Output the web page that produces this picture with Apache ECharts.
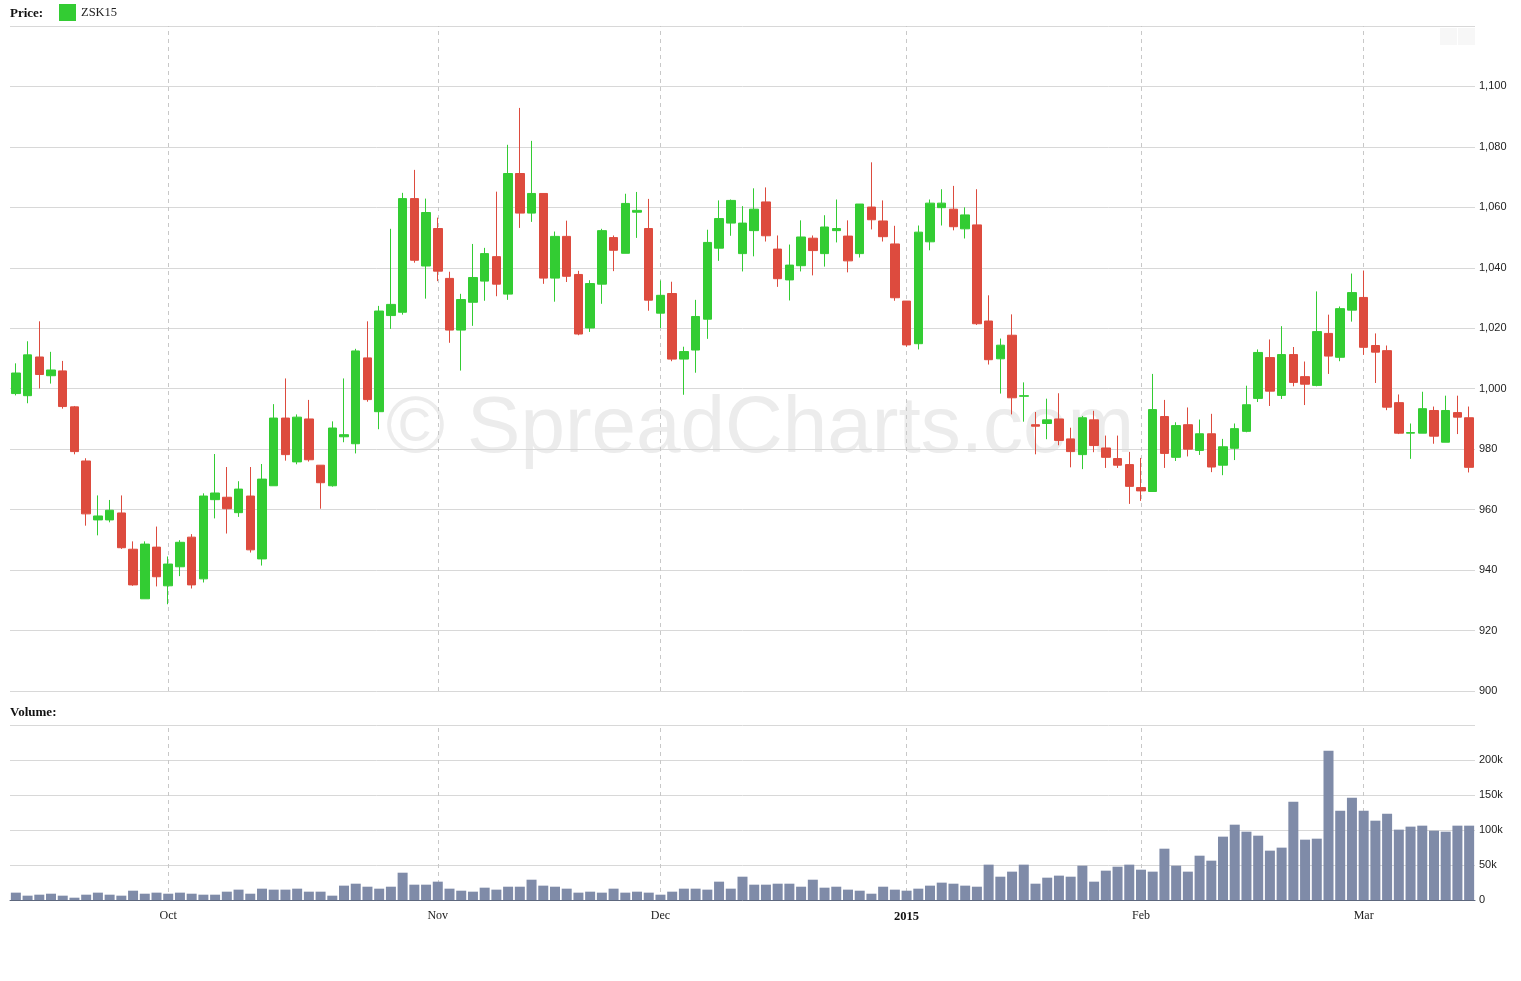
<!DOCTYPE html>
<html>
<head>
<meta charset="utf-8">
<script src="https://cdn.jsdelivr.net/npm/echarts@6/dist/echarts.min.js"></script>
<style>
html,body{margin:0;padding:0;background:#fff;}
#chart{width:1521px;height:981px;}
</style>
</head>
<body>
<div id="chart"></div>
<script>
// ---- Data (ZSK15, daily, Sep 12 2014 – Mar 13 2015) ----
const dates = [
'2014-09-12','2014-09-15','2014-09-16','2014-09-17','2014-09-18','2014-09-19','2014-09-22','2014-09-23','2014-09-24','2014-09-25','2014-09-26','2014-09-29','2014-09-30',
'2014-10-01','2014-10-02','2014-10-03','2014-10-06','2014-10-07','2014-10-08','2014-10-09','2014-10-10','2014-10-13','2014-10-14','2014-10-15','2014-10-16','2014-10-17','2014-10-20','2014-10-21','2014-10-22','2014-10-23','2014-10-24','2014-10-27','2014-10-28','2014-10-29','2014-10-30','2014-10-31',
'2014-11-03','2014-11-04','2014-11-05','2014-11-06','2014-11-07','2014-11-10','2014-11-11','2014-11-12','2014-11-13','2014-11-14','2014-11-17','2014-11-18','2014-11-19','2014-11-20','2014-11-21','2014-11-24','2014-11-25','2014-11-26','2014-11-28',
'2014-12-01','2014-12-02','2014-12-03','2014-12-04','2014-12-05','2014-12-08','2014-12-09','2014-12-10','2014-12-11','2014-12-12','2014-12-15','2014-12-16','2014-12-17','2014-12-18','2014-12-19','2014-12-22','2014-12-23','2014-12-24','2014-12-29','2014-12-30','2014-12-31',
'2015-01-02','2015-01-05','2015-01-06','2015-01-07','2015-01-08','2015-01-09','2015-01-12','2015-01-13','2015-01-14','2015-01-15','2015-01-16','2015-01-20','2015-01-21','2015-01-22','2015-01-23','2015-01-26','2015-01-27','2015-01-28','2015-01-29','2015-01-30',
'2015-02-02','2015-02-03','2015-02-04','2015-02-05','2015-02-06','2015-02-09','2015-02-10','2015-02-11','2015-02-12','2015-02-13','2015-02-17','2015-02-18','2015-02-19','2015-02-20','2015-02-23','2015-02-24','2015-02-25','2015-02-26','2015-02-27',
'2015-03-02','2015-03-03','2015-03-04','2015-03-05','2015-03-06','2015-03-09','2015-03-10','2015-03-11','2015-03-12','2015-03-13'
];
const opens = [
998.4,997.7,1010.5,1004.3,1005.9,994.0,976.1,956.6,956.6,958.9,946.9,930.5,947.6,
934.8,941.1,950.9,937.1,963.3,964.1,959.0,964.5,943.7,967.9,990.3,975.8,990.0,974.7,967.9,984.1,981.8,1010.2,992.4,1024.2,1025.3,1062.9,1040.6,
1053.0,1036.5,1019.4,1028.6,1035.6,1043.7,1031.3,1071.2,1058.1,1064.6,1036.6,1050.4,1037.8,1020.1,1034.6,1050.0,1044.8,1058.4,1053.0,
1025.0,1031.5,1009.8,1012.8,1023.0,1046.5,1054.8,1044.7,1052.3,1061.8,1046.2,1036.0,1040.7,1049.8,1044.7,1052.3,1050.5,1044.7,1060.1,1055.5,1047.9,
1029.0,1014.9,1048.6,1059.9,1059.4,1052.9,1054.2,1022.4,1009.9,1017.7,997.5,988.1,988.5,990.0,983.4,978.2,989.7,980.4,976.9,974.9,
967.3,966.0,990.8,977.3,988.1,979.6,985.1,974.7,980.3,985.9,996.8,1010.3,997.8,1011.3,1004.0,1001.1,1018.3,1010.4,1026.0,
1030.2,1014.3,1012.6,995.4,985.3,985.3,992.8,982.3,992.1,990.4
];
const closes = [
1005.2,1011.2,1004.7,1006.2,994.1,979.2,958.6,957.9,959.8,947.4,935.1,948.6,937.8,
942.0,949.2,935.1,964.5,965.5,960.3,966.8,946.7,970.1,990.3,978.2,990.6,976.5,968.9,987.0,984.8,1012.5,996.4,1025.7,1027.9,1062.9,1042.5,1058.3,
1038.9,1019.4,1029.5,1036.8,1044.7,1034.6,1071.2,1058.1,1064.6,1036.6,1050.4,1037.2,1018.1,1034.8,1052.3,1045.8,1061.3,1059.0,1029.3,
1030.9,1009.8,1012.3,1023.9,1048.4,1056.3,1062.3,1054.8,1059.4,1050.6,1036.4,1040.9,1050.2,1045.7,1053.5,1053.0,1042.3,1061.1,1055.9,1050.3,1030.1,
1014.5,1051.8,1061.4,1061.4,1053.6,1057.5,1021.5,1009.6,1014.4,997.0,997.7,987.6,989.7,982.9,979.2,990.4,981.2,977.3,974.7,967.7,
966.2,993.1,978.6,987.8,980.0,985.1,974.1,980.8,986.8,994.7,1012.0,999.2,1011.3,1002.1,1001.5,1018.9,1010.8,1026.5,1031.8,
1013.7,1012.1,993.9,985.3,985.5,993.4,984.3,992.8,990.6,974.0
];
const lows = [
997.8,995.2,1000.1,1001.7,993.4,978.3,954.7,951.5,955.8,947.0,934.8,930.5,934.6,
928.7,938.0,933.9,935.9,957.1,952.1,957.6,945.8,941.5,967.9,976.2,975.0,975.9,960.3,967.6,982.3,978.6,995.7,986.6,1019.8,1024.5,1041.7,1029.8,
1035.6,1015.2,1006.0,1020.8,1029.1,1030.6,1029.4,1053.2,1055.2,1034.7,1028.8,1035.3,1017.7,1018.8,1028.1,1038.9,1044.8,1049.9,1025.8,
1020.1,1009.1,998.0,1005.3,1016.5,1042.3,1050.6,1038.8,1043.8,1048.7,1033.7,1029.2,1038.8,1037.5,1040.4,1048.4,1038.5,1043.4,1052.7,1048.7,1029.1,
1013.9,1013.0,1045.8,1054.0,1052.4,1049.7,1021.1,1008.0,998.4,991.5,989.1,978.3,983.3,981.3,974.0,973.4,979.0,973.8,973.8,961.9,
962.9,966.0,973.8,976.1,977.6,978.1,972.4,971.4,976.4,985.6,995.6,994.3,996.6,1000.8,994.6,1000.8,1004.9,1009.1,1022.2,
1011.2,1001.9,992.9,985.0,976.8,985.3,981.8,982.3,985.0,972.3
];
const highs = [
1008.4,1015.7,1022.3,1012.2,1009.2,994.3,977.0,964.7,963.2,964.7,949.5,949.5,954.4,
944.5,949.9,951.9,965.4,978.4,974.1,969.4,974.1,975.1,994.9,1003.4,991.5,996.3,974.7,989.2,1003.4,1013.2,1022.3,1027.4,1052.9,1064.8,1072.4,1062.9,
1056.6,1038.7,1031.4,1047.9,1046.6,1065.2,1080.7,1092.9,1082.0,1064.6,1052.0,1055.6,1039.0,1035.9,1052.9,1050.7,1064.5,1065.1,1062.8,
1035.8,1035.4,1013.9,1029.4,1052.6,1062.3,1062.6,1060.4,1066.3,1066.6,1050.7,1047.7,1055.7,1050.7,1057.4,1062.6,1055.7,1061.1,1074.9,1062.3,1053.9,
1029.0,1054.0,1062.6,1066.0,1067.1,1060.0,1066.0,1030.9,1016.6,1024.6,1002.1,992.3,996.7,998.5,987.1,991.0,992.7,984.5,984.5,979.1,
977.1,1004.9,996.3,988.9,993.8,989.8,991.7,983.4,988.5,1001.0,1013.0,1016.3,1020.7,1013.8,1009.0,1032.2,1024.5,1027.2,1038.1,
1039.1,1018.3,1014.3,998.1,988.5,999.0,994.1,997.7,997.7,994.1
];
const volumes = [
10500,6200,7600,9000,6200,3300,7600,10500,7600,6200,13300,9000,10500,
9000,10500,9000,7600,7600,11900,14800,9000,16200,14800,14800,16200,11900,11900,6200,20500,23300,19000,16200,19000,39000,21900,21900,
26200,16200,13300,11900,17600,14800,19000,19000,29000,20500,19000,16200,10500,11900,10500,16200,10500,11900,10500,
7600,11900,16200,16200,14800,26200,16200,33300,21900,21900,23300,23300,19000,29000,17600,19000,14800,13300,9000,19000,14800,
13300,16200,20500,24800,23300,20500,19000,50500,33300,40500,50500,23300,31900,34800,33300,49000,26200,41900,47600,50500,
43300,40500,73300,49000,40500,63300,56200,90500,107600,97600,91900,70500,74800,140500,86200,87600,213300,127600,146200,
127600,113300,123300,100500,104800,106200,99000,97600,106200,106200
];
const tickDates = ['2014-10-01','2014-11-03','2014-12-01','2015-01-02','2015-02-02','2015-03-02'];
const tickLabels = ['Oct','Nov','Dec','2015','Feb','Mar'];
const seriesName = 'ZSK15';

// ---- Build ----
const ohlc = dates.map((d, i) => [opens[i], closes[i], lows[i], highs[i]]);
const UP = '#33cc33', DOWN = '#dd4b3e';
const gridColor = '#d8d8d8';
function vLines() {
  return {
    silent: true, symbol: ['none', 'none'], animation: false, z: 0,
    label: { show: false },
    lineStyle: { color: '#c8c8c8', type: [4, 4], width: 1 },
    data: tickDates.map(d => ({ xAxis: d }))
  };
}

const chart = echarts.init(document.getElementById('chart'), null, { renderer: 'canvas' });
chart.setOption({
  animation: false,
  backgroundColor: '#ffffff',
  legend: {
    left: 59, top: 4, padding: 0, itemWidth: 17, itemHeight: 17, itemGap: 5,
    selectedMode: false,
    textStyle: { fontFamily: 'Liberation Serif', fontSize: 12.5, color: '#222', padding: [2, 0, 0, 0] },
    data: [{ name: seriesName, icon: 'rect', itemStyle: { color: UP, borderWidth: 0 } }]
  },
  graphic: [
    { type: 'text', x: 10, y: 14, z: 10, style: { text: 'Price:', fontFamily: 'Liberation Serif', fontWeight: 'bold', fontSize: 13, fill: '#111', verticalAlign: 'middle' } },
    { type: 'text', x: 10, y: 712.5, z: 10, style: { text: 'Volume:', fontFamily: 'Liberation Serif', fontWeight: 'bold', fontSize: 13, fill: '#111', verticalAlign: 'middle' } },
    { type: 'text', x: 760, y: 430, z: -10, style: { text: '\u00A9 SpreadCharts.com', fontFamily: 'Liberation Sans', fontSize: 80, fill: '#ececec', align: 'center', verticalAlign: 'middle' } },
    { type: 'rect', shape: { x: 1440, y: 28, width: 17, height: 17 }, z: -5, style: { fill: '#f7f7f7' } },
    { type: 'rect', shape: { x: 1458, y: 28, width: 17, height: 17 }, z: -5, style: { fill: '#f7f7f7' } }
  ],
  grid: [
    { left: 10, right: 46, top: 26, height: 665 },
    { left: 10, right: 46, top: 725, height: 175 }
  ],
  xAxis: [
    {
      type: 'category', gridIndex: 0, data: dates, boundaryGap: true,
      axisLine: { show: false }, axisTick: { show: false }, axisLabel: { show: false }, splitLine: { show: false }
    },
    {
      type: 'category', gridIndex: 1, data: dates, boundaryGap: true,
      axisLine: { show: true, lineStyle: { color: '#5d677d', width: 1 } },
      axisTick: { show: false }, splitLine: { show: false },
      axisLabel: {
        margin: 10,
        interval: (idx, val) => tickDates.indexOf(val) >= 0,
        formatter: (val) => {
          const k = tickDates.indexOf(val);
          if (k < 0) return '';
          const t = tickLabels[k];
          return /^\d{4}$/.test(t) ? '{b|' + t + '}' : t;
        },
        fontFamily: 'Liberation Serif', fontSize: 12, color: '#222',
        rich: { b: { fontFamily: 'Liberation Serif', fontSize: 12.5, fontWeight: 'bold', color: '#111' } }
      }
    }
  ],
  yAxis: [
    {
      type: 'value', gridIndex: 0, position: 'right', min: 900, max: 1120, interval: 20,
      axisLine: { show: false }, axisTick: { show: false },
      axisLabel: {
        showMaxLabel: false, margin: 4, fontFamily: 'Liberation Sans', fontSize: 11, color: '#222',
        formatter: v => v.toLocaleString('en-US')
      },
      splitLine: { show: true, lineStyle: { color: gridColor, width: 1 } }
    },
    {
      type: 'value', gridIndex: 1, position: 'right', min: 0, max: 250000, interval: 50000,
      axisLine: { show: false }, axisTick: { show: false },
      axisLabel: {
        showMaxLabel: false, margin: 4, fontFamily: 'Liberation Sans', fontSize: 11, color: '#222',
        formatter: v => v === 0 ? '0' : (v / 1000) + 'k'
      },
      splitLine: { show: true, lineStyle: { color: gridColor, width: 1 } }
    }
  ],
  series: [
    {
      name: 'monthLinesPrice', type: 'line', xAxisIndex: 0, yAxisIndex: 0, z: 1,
      data: [], silent: true, markLine: vLines()
    },
    {
      name: 'monthLinesVolume', type: 'line', xAxisIndex: 1, yAxisIndex: 1, z: 1,
      data: [], silent: true, markLine: vLines()
    },
    {
      name: seriesName, type: 'candlestick', xAxisIndex: 0, yAxisIndex: 0, z: 3,
      data: ohlc, barWidth: 9,
      itemStyle: { color: UP, color0: DOWN, borderColor: UP, borderColor0: DOWN, borderWidth: 1 }
    },
    {
      name: 'Volume', type: 'bar', xAxisIndex: 1, yAxisIndex: 1, z: 3,
      data: volumes, barWidth: 10,
      itemStyle: { color: '#7f8ba8' }
    }
  ]
});
</script>
</body>
</html>
